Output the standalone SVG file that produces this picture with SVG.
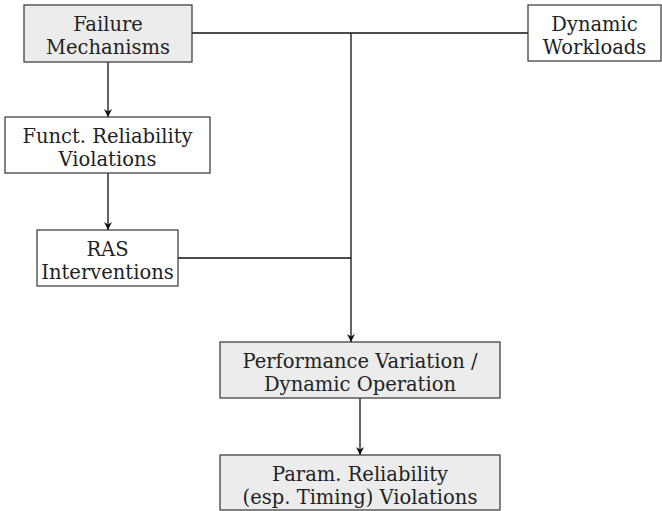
<svg xmlns="http://www.w3.org/2000/svg" width="662" height="511" viewBox="0 0 662 511">
  <style>
    .box { stroke: #333; stroke-width: 1.2; }
    .grey { fill: #ececec; }
    .white { fill: #ffffff; }
    .lbl { font-family: "DejaVu Serif", "Liberation Serif", serif; font-size: 19.5px; fill: #222; text-anchor: middle; }
    .edge { fill: none; stroke: #111; stroke-width: 1.3; }
  </style>
  <defs>
    <marker id="arrow" viewBox="0 0 10 10" refX="10" refY="5" markerWidth="8" markerHeight="8" markerUnits="userSpaceOnUse" orient="auto">
      <path d="M0,0 L10,5 L0,10 L3,5 Z" fill="#111"/>
    </marker>
  </defs>
  <rect width="662" height="511" fill="#ffffff"/>

  <g id="connectors">
    <path class="edge" d="M192,33 H528"/>
    <path class="edge" d="M178,258 H351"/>
    <path class="edge" d="M351,33 V342" marker-end="url(#arrow)"/>
    <path class="edge" d="M108,62 V117" marker-end="url(#arrow)"/>
    <path class="edge" d="M108,173 V230" marker-end="url(#arrow)"/>
    <path class="edge" d="M360,398 V455" marker-end="url(#arrow)"/>
  </g>

  <g id="failure-mechanisms">
    <rect class="box grey" x="24" y="5" width="168" height="57"/>
    <text class="lbl" x="108" y="31">Failure</text>
    <text class="lbl" x="108" y="54">Mechanisms</text>
  </g>

  <g id="dynamic-workloads">
    <rect class="box white" x="528" y="5" width="133" height="56"/>
    <text class="lbl" x="594.5" y="31">Dynamic</text>
    <text class="lbl" x="594.5" y="54">Workloads</text>
  </g>

  <g id="functional-violations">
    <rect class="box white" x="5" y="117" width="205" height="56"/>
    <text class="lbl" x="107.5" y="143">Funct. Reliability</text>
    <text class="lbl" x="107.5" y="166">Violations</text>
  </g>

  <g id="ras-interventions">
    <rect class="box white" x="37" y="230" width="141" height="56"/>
    <text class="lbl" x="107.5" y="256">RAS</text>
    <text class="lbl" x="107.5" y="279">Interventions</text>
  </g>

  <g id="performance-variation">
    <rect class="box grey" x="220" y="342" width="280" height="56"/>
    <text class="lbl" x="360" y="368">Performance Variation /</text>
    <text class="lbl" x="360" y="391">Dynamic Operation</text>
  </g>

  <g id="parametric-violations">
    <rect class="box grey" x="220" y="455" width="280" height="55"/>
    <text class="lbl" x="360" y="481">Param. Reliability</text>
    <text class="lbl" x="360" y="504">(esp. Timing) Violations</text>
  </g>
</svg>
